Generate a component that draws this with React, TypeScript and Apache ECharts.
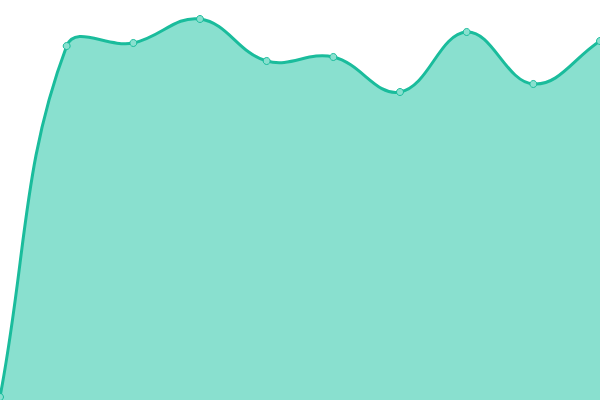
import { useEffect, useRef } from 'react';
import * as echarts from 'echarts';

const categories = ['1', '2', '3', '4', '5', '6', '7', '8', '9', '10'];
const values = [3, 354, 357, 381, 339, 343, 308, 368, 316, 359];

const LINE_COLOR = '#1abc9c';
const AREA_COLOR = '#89e0cf';
const TENSION = 0.4;

// spline like Chart.js: control points are not clamped, so the curve can overshoot
function splinePath(pts: number[][]) {
  const n = pts.length;
  const cps: { prev: number[]; next: number[] }[] = [];
  for (let i = 0; i < n; i++) {
    const p0 = pts[Math.max(i - 1, 0)];
    const p1 = pts[i];
    const p2 = pts[Math.min(i + 1, n - 1)];
    const d01 = Math.hypot(p1[0] - p0[0], p1[1] - p0[1]);
    const d12 = Math.hypot(p2[0] - p1[0], p2[1] - p1[1]);
    const sum = d01 + d12 || 1;
    const fa = (TENSION * d01) / sum;
    const fb = (TENSION * d12) / sum;
    const vx = p2[0] - p0[0];
    const vy = p2[1] - p0[1];
    cps.push({
      prev: [p1[0] - fa * vx, p1[1] - fa * vy],
      next: [p1[0] + fb * vx, p1[1] + fb * vy],
    });
  }
  let d = `M${pts[0][0]},${pts[0][1]}`;
  for (let i = 1; i < n; i++) {
    const a = cps[i - 1].next;
    const b = cps[i].prev;
    d += ` C${a[0]},${a[1]} ${b[0]},${b[1]} ${pts[i][0]},${pts[i][1]}`;
  }
  return d;
}

export default function App() {
  const el = useRef<HTMLDivElement>(null);

  useEffect(() => {
    document.body.style.margin = '0';
    if (!el.current) return;
    const chart = echarts.init(el.current, null, { renderer: 'svg' });
    chart.setOption({
      animation: false,
      grid: { left: 0, right: 0, top: 0, bottom: 0 },
      xAxis: {
        type: 'category',
        data: categories,
        boundaryGap: false,
        show: false,
      },
      yAxis: {
        type: 'value',
        min: 0,
        max: 400,
        show: false,
      },
      series: [
        {
          type: 'custom',
          silent: true,
          data: [[0, 0]],
          renderItem: (_params: any, api: any) => {
            const pts = values.map((v, i) => api.coord([i, v]));
            const bottom = api.coord([0, 0])[1];
            const line = splinePath(pts);
            const last = pts[pts.length - 1];
            const area = `${line} L${last[0]},${bottom} L${pts[0][0]},${bottom} Z`;
            return {
              type: 'group',
              children: [
                {
                  type: 'path',
                  shape: { pathData: area },
                  style: { fill: AREA_COLOR, stroke: 'none' },
                },
                {
                  type: 'path',
                  shape: { pathData: line },
                  style: { fill: 'none', stroke: LINE_COLOR, lineWidth: 3 },
                },
              ],
            };
          },
        },
        {
          type: 'scatter',
          silent: true,
          z: 5,
          data: values.map((v, i) => [i, v]),
          symbol: 'circle',
          symbolSize: 7,
          itemStyle: { color: AREA_COLOR, borderColor: LINE_COLOR, borderWidth: 1, opacity: 1 },
        },
      ],
    });
    return () => chart.dispose();
  }, []);

  return <div ref={el} style={{ width: 600, height: 400 }} />;
}
